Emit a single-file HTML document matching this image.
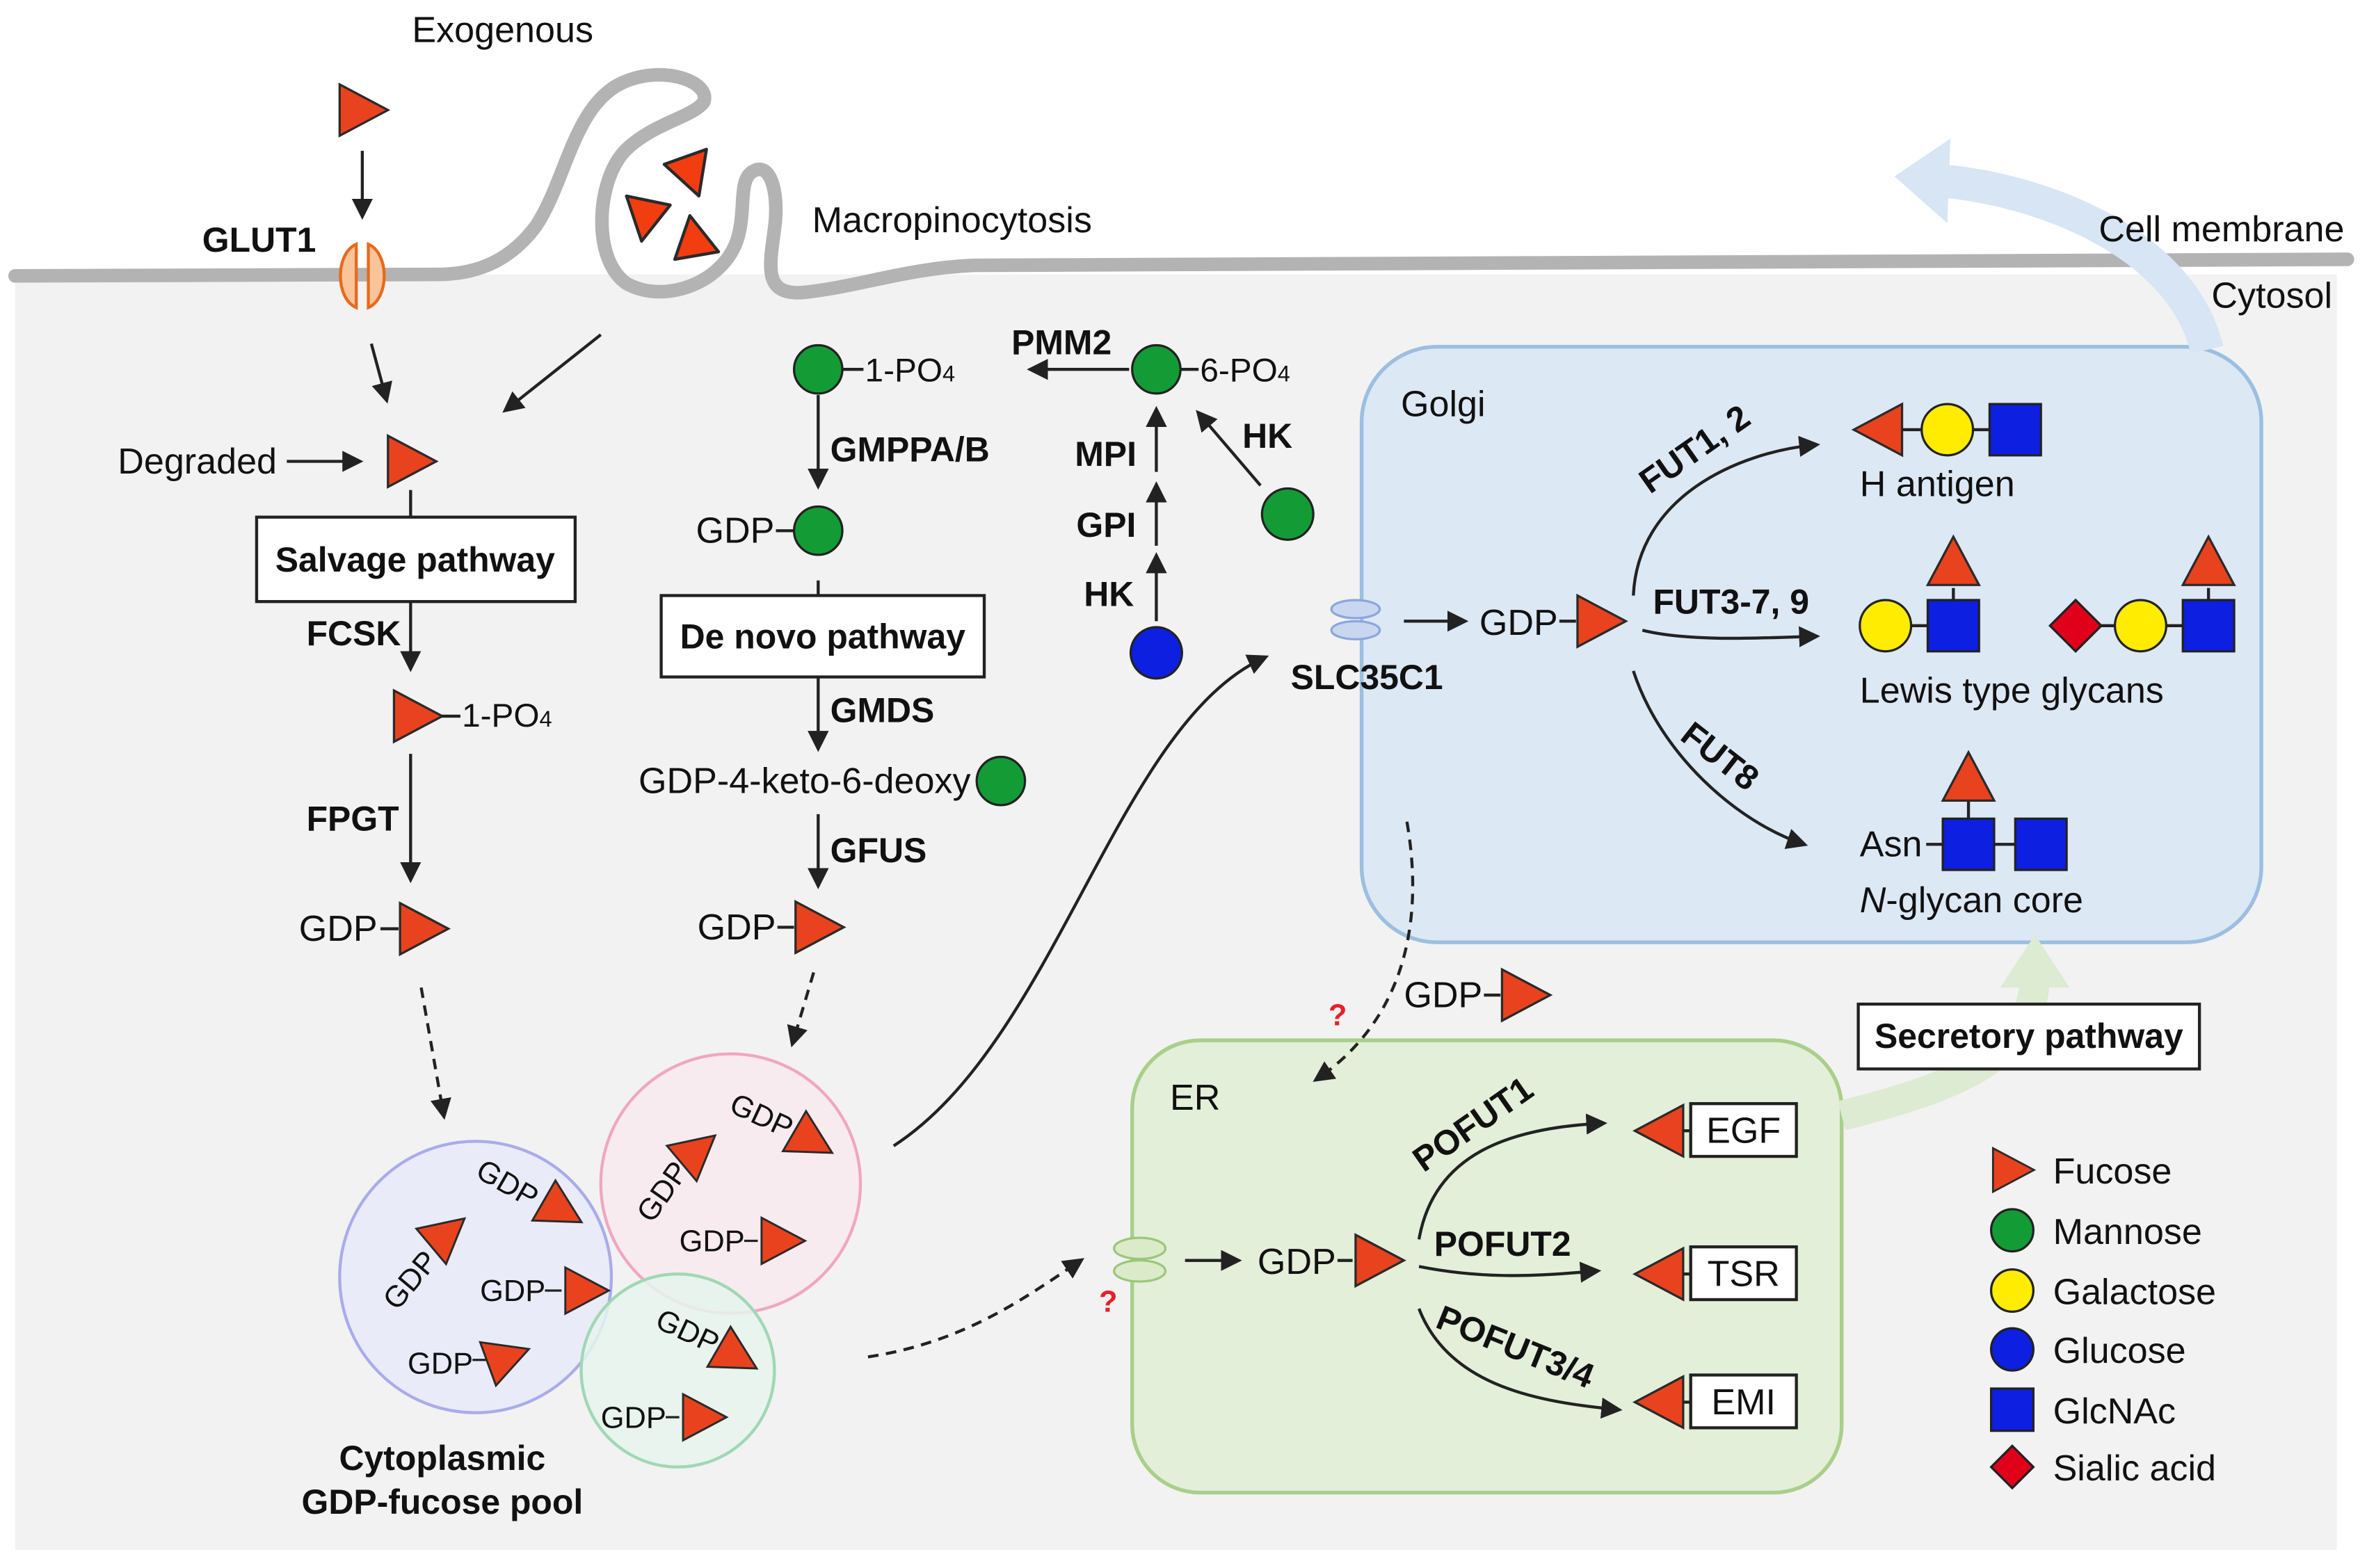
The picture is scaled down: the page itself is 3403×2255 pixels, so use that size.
<!DOCTYPE html>
<html><head><meta charset="utf-8">
<style>
html,body{margin:0;padding:0;background:#fff;}
svg{display:block;}
text{font-family:"Liberation Sans",Arial,sans-serif;fill:#111;}
.b{font-weight:bold;}
</style></head>
<body>
<svg width="3403" height="2255" viewBox="0 0 1568 1040" preserveAspectRatio="none" xmlns="http://www.w3.org/2000/svg">
<defs>
<g id="tri"><polygon points="-15,-17 17,0 -15,17" fill="#e8431e" stroke="#2a2a2a" stroke-width="1.5"/></g>
<g id="tril"><polygon points="15,-17 -17,0 15,17" fill="#e8431e" stroke="#2a2a2a" stroke-width="1.5"/></g>
<g id="triu"><polygon points="-17,15 0,-17 17,15" fill="#e8431e" stroke="#2a2a2a" stroke-width="1.5"/></g>
<marker id="ah" viewBox="0 0 10 10" refX="8" refY="5" markerWidth="7" markerHeight="7" orient="auto-start-reverse"><path d="M0,0 L10,5 L0,10 z" fill="#222"/></marker>
</defs>

<!-- cytosol -->
<rect x="10" y="182" width="1538" height="846" fill="#f2f2f2"/>
<!-- membrane -->
<path d="M10,183 L290,182 C320,182 340,170 355,150 C375,120 380,70 412,55 C440,42 472,55 466,68 C458,78 432,82 414,100 C395,120 392,172 415,188 C440,202 478,188 488,160 C495,140 488,118 500,113 C512,108 516,132 513,152 C510,176 505,196 532,194 C570,190 600,178 645,176 L1555,172" fill="none" stroke="#b3b3b3" stroke-width="9" stroke-linecap="round" stroke-linejoin="round"/>

<!-- Golgi / ER -->
<rect x="902" y="230" width="596" height="395" rx="50" fill="#dde8f5" stroke="#9bbfe0" stroke-width="2.5"/>
<rect x="750" y="690" width="470" height="300" rx="45" fill="#e3efd9" stroke="#a9cf8a" stroke-width="2.5"/>

<!-- big light arrows -->
<path d="M1462,232 C1445,160 1350,125 1285,120" fill="none" stroke="#d7e5f4" stroke-width="22"/>
<polygon points="1255,117 1292,92 1290,148" fill="#d7e5f4"/>
<path d="M1220,740 C1300,720 1345,700 1348,650" fill="none" stroke="#dcebd2" stroke-width="20"/>
<polygon points="1348,620 1325,655 1371,655" fill="#dcebd2"/>

<text x="333" y="28" font-size="24" text-anchor="middle">Exogenous</text>
<use href="#tri" x="240" y="73"/>
<line x1="240" y1="100" x2="240" y2="143" stroke="#222" stroke-width="2" marker-end="url(#ah)"/>
<text x="134" y="167" font-size="23" class="b">GLUT1</text>
<path d="M236,162 C222,168 222,198 236,204 Z" fill="#f9c49a" stroke="#e86a1c" stroke-width="2"/>
<path d="M244,162 C258,168 258,198 244,204 Z" fill="#f9c49a" stroke="#e86a1c" stroke-width="2"/>
<g fill="#f23d10" stroke="#2a2a2a" stroke-width="2" stroke-linejoin="round">
<polygon points="440,109 468,99 463,130"/>
<polygon points="415,130 444,136 425,160"/>
<polygon points="457,143 476,167 447,172"/>
</g>
<text x="538" y="154" font-size="24">Macropinocytosis</text>
<text x="1553" y="160" font-size="24" text-anchor="end">Cell membrane</text>
<text x="1545" y="204" font-size="24" text-anchor="end">Cytosol</text>

<!-- Salvage -->
<line x1="246" y1="228" x2="256" y2="265" stroke="#222" stroke-width="2" marker-end="url(#ah)"/>
<line x1="398" y1="222" x2="335" y2="272" stroke="#222" stroke-width="2" marker-end="url(#ah)"/>
<text x="78" y="314" font-size="24">Degraded</text>
<line x1="190" y1="306" x2="238" y2="306" stroke="#222" stroke-width="2" marker-end="url(#ah)"/>
<use href="#tri" x="272" y="306"/>
<line x1="272" y1="325" x2="272" y2="343" stroke="#222" stroke-width="2"/>
<rect x="170" y="343" width="211" height="56" fill="#fff" stroke="#222" stroke-width="2"/>
<text x="275" y="379" font-size="23" class="b" text-anchor="middle">Salvage pathway</text>
<line x1="272" y1="399" x2="272" y2="443" stroke="#222" stroke-width="2" marker-end="url(#ah)"/>
<text x="203" y="428" font-size="23" class="b">FCSK</text>
<use href="#tri" x="276" y="475"/>
<line x1="292" y1="475" x2="305" y2="475" stroke="#222" stroke-width="2"/>
<text x="306" y="482" font-size="22">1-PO<tspan font-size="15">4</tspan></text>
<line x1="272" y1="500" x2="272" y2="583" stroke="#222" stroke-width="2" marker-end="url(#ah)"/>
<text x="203" y="551" font-size="23" class="b">FPGT</text>
<text x="198" y="624" font-size="24">GDP</text>
<line x1="252" y1="616" x2="264" y2="616" stroke="#222" stroke-width="2"/>
<use href="#tri" x="280" y="616"/>
<line x1="279" y1="655" x2="294" y2="740" stroke="#222" stroke-width="2" stroke-dasharray="7,5" marker-end="url(#ah)"/>

<!-- De novo -->
<circle cx="542" cy="245" r="16" fill="#139b36" stroke="#222" stroke-width="1.5"/>
<line x1="558" y1="245" x2="572" y2="245" stroke="#222" stroke-width="2"/>
<text x="573" y="253" font-size="22">1-PO<tspan font-size="15">4</tspan></text>
<line x1="542" y1="262" x2="542" y2="322" stroke="#222" stroke-width="2" marker-end="url(#ah)"/>
<text x="550" y="306" font-size="23" class="b">GMPPA/B</text>
<text x="461" y="360" font-size="24">GDP</text>
<line x1="514" y1="352" x2="526" y2="352" stroke="#222" stroke-width="2"/>
<circle cx="542" cy="352" r="16" fill="#139b36" stroke="#222" stroke-width="1.5"/>
<line x1="542" y1="385" x2="542" y2="395" stroke="#222" stroke-width="2"/>
<rect x="438" y="395" width="214" height="54" fill="#fff" stroke="#222" stroke-width="2"/>
<text x="545" y="430" font-size="23" class="b" text-anchor="middle">De novo pathway</text>
<line x1="542" y1="449" x2="542" y2="496" stroke="#222" stroke-width="2" marker-end="url(#ah)"/>
<text x="550" y="479" font-size="23" class="b">GMDS</text>
<text x="423" y="526" font-size="24">GDP-4-keto-6-deoxy</text>
<circle cx="663" cy="518" r="16" fill="#139b36" stroke="#222" stroke-width="1.5"/>
<line x1="542" y1="540" x2="542" y2="587" stroke="#222" stroke-width="2" marker-end="url(#ah)"/>
<text x="550" y="572" font-size="23" class="b">GFUS</text>
<text x="462" y="623" font-size="24">GDP</text>
<line x1="515" y1="615" x2="526" y2="615" stroke="#222" stroke-width="2"/>
<use href="#tri" x="542" y="615"/>
<line x1="539" y1="645" x2="525" y2="692" stroke="#222" stroke-width="2" stroke-dasharray="7,5" marker-end="url(#ah)"/>

<!-- top enzymes -->
<text x="670" y="235" font-size="23" class="b">PMM2</text>
<line x1="748" y1="245" x2="683" y2="245" stroke="#222" stroke-width="2" marker-end="url(#ah)"/>
<circle cx="766" cy="245" r="16" fill="#139b36" stroke="#222" stroke-width="1.5"/>
<line x1="782" y1="245" x2="794" y2="245" stroke="#222" stroke-width="2"/>
<text x="795" y="253" font-size="22">6-PO<tspan font-size="15">4</tspan></text>
<text x="712" y="309" font-size="23" class="b">MPI</text>
<line x1="766" y1="313" x2="766" y2="272" stroke="#222" stroke-width="2" marker-end="url(#ah)"/>
<text x="713" y="356" font-size="23" class="b">GPI</text>
<line x1="766" y1="362" x2="766" y2="322" stroke="#222" stroke-width="2" marker-end="url(#ah)"/>
<text x="718" y="402" font-size="23" class="b">HK</text>
<line x1="766" y1="412" x2="766" y2="369" stroke="#222" stroke-width="2" marker-end="url(#ah)"/>
<circle cx="766" cy="433" r="17" fill="#0d1fe0" stroke="#222" stroke-width="1.5"/>
<text x="823" y="297" font-size="23" class="b">HK</text>
<line x1="835" y1="322" x2="794" y2="274" stroke="#222" stroke-width="2" marker-end="url(#ah)"/>
<circle cx="853" cy="341" r="17" fill="#139b36" stroke="#222" stroke-width="1.5"/>

<!-- pools -->
<circle cx="315" cy="847" r="90" fill="#e9eaf8" stroke="#a9acea" stroke-width="2" fill-opacity="0.9"/>
<circle cx="484" cy="785" r="86" fill="#f8eaf0" stroke="#f1a6c0" stroke-width="2" fill-opacity="0.85"/>
<circle cx="449" cy="909" r="64" fill="#e6f4ec" stroke="#9fd8b4" stroke-width="2" fill-opacity="0.85"/>
<g font-size="20">
<text transform="translate(314,780) rotate(30)">GDP</text>
<use href="#tri" transform="translate(372,803) rotate(30) scale(0.9)"/>
<text transform="translate(263,870) rotate(-50)">GDP</text>
<use href="#tri" transform="translate(296,818) rotate(-40) scale(0.9)"/>
<text x="318" y="863">GDP</text><line x1="361" y1="856" x2="372" y2="856" stroke="#222" stroke-width="1.5"/>
<use href="#tri" transform="translate(388,856) scale(0.9)"/>
<text x="270" y="911">GDP</text><line x1="313" y1="902" x2="322" y2="902" stroke="#222" stroke-width="1.5"/>
<use href="#tri" transform="translate(336,900) rotate(-20) scale(0.9)"/>
<text transform="translate(482,737) rotate(25)">GDP</text>
<use href="#tri" transform="translate(538,757) rotate(30) scale(0.9)"/>
<text transform="translate(432,812) rotate(-55)">GDP</text>
<use href="#tri" transform="translate(462,763) rotate(-40) scale(0.9)"/>
<text x="450" y="830">GDP</text><line x1="493" y1="823" x2="502" y2="823" stroke="#222" stroke-width="1.5"/>
<use href="#tri" transform="translate(518,823) scale(0.9)"/>
<text transform="translate(433,880) rotate(25)">GDP</text>
<use href="#tri" transform="translate(488,900) rotate(30) scale(0.9)"/>
<text x="398" y="947">GDP</text><line x1="441" y1="940" x2="450" y2="940" stroke="#222" stroke-width="1.5"/>
<use href="#tri" transform="translate(466,940) scale(0.9)"/>
</g>
<text x="293" y="975" font-size="23" class="b" text-anchor="middle">Cytoplasmic</text>
<text x="293" y="1004" font-size="23" class="b" text-anchor="middle">GDP-fucose pool</text>

<!-- to Golgi -->
<path d="M592,760 C700,690 740,480 838,436" fill="none" stroke="#222" stroke-width="2" marker-end="url(#ah)"/>
<ellipse cx="898" cy="404" rx="16" ry="6" fill="#c8d6f0" stroke="#8aa7dc" stroke-width="1.5"/>
<ellipse cx="898" cy="418" rx="16" ry="6" fill="#c8d6f0" stroke="#8aa7dc" stroke-width="1.5"/>
<text x="855" y="457" font-size="23" class="b">SLC35C1</text>
<line x1="930" y1="412" x2="970" y2="412" stroke="#222" stroke-width="2" marker-end="url(#ah)"/>
<text x="980" y="421" font-size="24">GDP</text>
<line x1="1033" y1="412" x2="1044" y2="412" stroke="#222" stroke-width="2"/>
<use href="#tri" x="1060" y="412"/>
<text x="928" y="276" font-size="24">Golgi</text>
<path d="M1082,395 C1085,330 1150,300 1203,295" fill="none" stroke="#222" stroke-width="2" marker-end="url(#ah)"/>
<path d="M1088,418 C1120,426 1170,423 1203,422" fill="none" stroke="#222" stroke-width="2" marker-end="url(#ah)"/>
<path d="M1082,445 C1100,500 1150,545 1195,560" fill="none" stroke="#222" stroke-width="2" marker-end="url(#ah)"/>
<text transform="translate(1093,328) rotate(-35)" font-size="23" class="b">FUT1, 2</text>
<text x="1095" y="407" font-size="23" class="b">FUT3-7, 9</text>
<text transform="translate(1112,490) rotate(38)" font-size="23" class="b">FUT8</text>

<!-- glycans -->
<use href="#tril" x="1245" y="285"/>
<line x1="1260" y1="285" x2="1318" y2="285" stroke="#222" stroke-width="2"/>
<circle cx="1290" cy="285" r="17" fill="#ffec00" stroke="#222" stroke-width="1.5"/>
<rect x="1318" y="268" width="34" height="34" fill="#0d1fe0" stroke="#222" stroke-width="1.5"/>
<text x="1232" y="329" font-size="24">H antigen</text>

<line x1="1266" y1="415" x2="1277" y2="415" stroke="#222" stroke-width="2"/>
<circle cx="1249" cy="415" r="17" fill="#ffec00" stroke="#222" stroke-width="1.5"/>
<line x1="1294" y1="390" x2="1294" y2="398" stroke="#222" stroke-width="2"/>
<rect x="1277" y="398" width="34" height="34" fill="#0d1fe0" stroke="#222" stroke-width="1.5"/>
<use href="#triu" x="1294" y="373"/>
<line x1="1375" y1="415" x2="1446" y2="415" stroke="#222" stroke-width="2"/>
<polygon points="1375,398 1392,415 1375,432 1358,415" fill="#e0001a" stroke="#222" stroke-width="1.5"/>
<circle cx="1418" cy="415" r="17" fill="#ffec00" stroke="#222" stroke-width="1.5"/>
<line x1="1463" y1="390" x2="1463" y2="398" stroke="#222" stroke-width="2"/>
<rect x="1446" y="398" width="34" height="34" fill="#0d1fe0" stroke="#222" stroke-width="1.5"/>
<use href="#triu" x="1463" y="373"/>
<text x="1232" y="466" font-size="24">Lewis type glycans</text>

<text x="1232" y="568" font-size="24">Asn</text>
<line x1="1276" y1="560" x2="1335" y2="560" stroke="#222" stroke-width="2"/>
<line x1="1304" y1="530" x2="1304" y2="543" stroke="#222" stroke-width="2"/>
<rect x="1287" y="543" width="34" height="34" fill="#0d1fe0" stroke="#222" stroke-width="1.5"/>
<rect x="1335" y="543" width="34" height="34" fill="#0d1fe0" stroke="#222" stroke-width="1.5"/>
<use href="#triu" x="1304" y="516"/>
<text x="1232" y="605" font-size="24"><tspan font-style="italic">N</tspan>-glycan core</text>

<!-- Golgi to ER -->
<path d="M932,545 C945,620 925,680 872,716" fill="none" stroke="#222" stroke-width="2" stroke-dasharray="7,5" marker-end="url(#ah)"/>
<text x="880" y="680" font-size="20" class="b" style="fill:#e8202a">?</text>
<text x="930" y="668" font-size="24">GDP</text>
<line x1="983" y1="660" x2="994" y2="660" stroke="#222" stroke-width="2"/>
<use href="#tri" x="1010" y="660"/>
<rect x="1231" y="666" width="226" height="43" fill="#fff" stroke="#222" stroke-width="2"/>
<text x="1344" y="695" font-size="23" class="b" text-anchor="middle">Secretory pathway</text>

<!-- ER -->
<text x="775" y="736" font-size="24">ER</text>
<path d="M575,900 C640,890 680,860 716,836" fill="none" stroke="#222" stroke-width="2" stroke-dasharray="7,5" marker-end="url(#ah)"/>
<text x="728" y="870" font-size="20" class="b" style="fill:#e8202a">?</text>
<ellipse cx="755" cy="828" rx="17" ry="7" fill="#dbebc9" stroke="#9bc77a" stroke-width="1.5"/>
<ellipse cx="755" cy="843" rx="17" ry="7" fill="#dbebc9" stroke="#9bc77a" stroke-width="1.5"/>
<line x1="785" y1="836" x2="820" y2="836" stroke="#222" stroke-width="2" marker-end="url(#ah)"/>
<text x="833" y="845" font-size="24">GDP</text>
<line x1="886" y1="836" x2="896" y2="836" stroke="#222" stroke-width="2"/>
<use href="#tri" x="913" y="836"/>
<path d="M940,822 C950,765 1000,748 1062,745" fill="none" stroke="#222" stroke-width="2" marker-end="url(#ah)"/>
<path d="M940,840 C990,850 1030,845 1058,843" fill="none" stroke="#222" stroke-width="2" marker-end="url(#ah)"/>
<path d="M940,868 C960,920 1020,930 1072,935" fill="none" stroke="#222" stroke-width="2" marker-end="url(#ah)"/>
<text transform="translate(943,778) rotate(-35)" font-size="23" class="b">POFUT1</text>
<text x="950" y="833" font-size="23" class="b">POFUT2</text>
<text transform="translate(950,880) rotate(22)" font-size="23" class="b">POFUT3/4</text>
<use href="#tril" x="1100" y="750"/>
<line x1="1115" y1="750" x2="1120" y2="750" stroke="#222" stroke-width="2"/>
<rect x="1120" y="732" width="70" height="35" fill="#fff" stroke="#222" stroke-width="2"/>
<text x="1155" y="758" font-size="24" text-anchor="middle">EGF</text>
<use href="#tril" x="1100" y="845"/>
<line x1="1115" y1="845" x2="1120" y2="845" stroke="#222" stroke-width="2"/>
<rect x="1120" y="827" width="70" height="35" fill="#fff" stroke="#222" stroke-width="2"/>
<text x="1155" y="853" font-size="24" text-anchor="middle">TSR</text>
<use href="#tril" x="1100" y="930"/>
<line x1="1115" y1="930" x2="1120" y2="930" stroke="#222" stroke-width="2"/>
<rect x="1120" y="912" width="70" height="35" fill="#fff" stroke="#222" stroke-width="2"/>
<text x="1155" y="938" font-size="24" text-anchor="middle">EMI</text>

<!-- legend -->
<use href="#tri" transform="translate(1333,776) scale(0.85)"/>
<text x="1360" y="785" font-size="24">Fucose</text>
<circle cx="1333" cy="816" r="14" fill="#139b36" stroke="#222" stroke-width="1.5"/>
<text x="1360" y="825" font-size="24">Mannose</text>
<circle cx="1333" cy="856" r="14" fill="#ffec00" stroke="#222" stroke-width="1.5"/>
<text x="1360" y="865" font-size="24">Galactose</text>
<circle cx="1333" cy="895" r="14" fill="#0d1fe0" stroke="#222" stroke-width="1.5"/>
<text x="1360" y="904" font-size="24">Glucose</text>
<rect x="1319" y="921" width="28" height="28" fill="#0d1fe0" stroke="#222" stroke-width="1.5"/>
<text x="1360" y="944" font-size="24">GlcNAc</text>
<polygon points="1333,959 1347,973 1333,987 1319,973" fill="#e0001a" stroke="#222" stroke-width="1.5"/>
<text x="1360" y="982" font-size="24">Sialic acid</text>
</svg>
</body></html>
